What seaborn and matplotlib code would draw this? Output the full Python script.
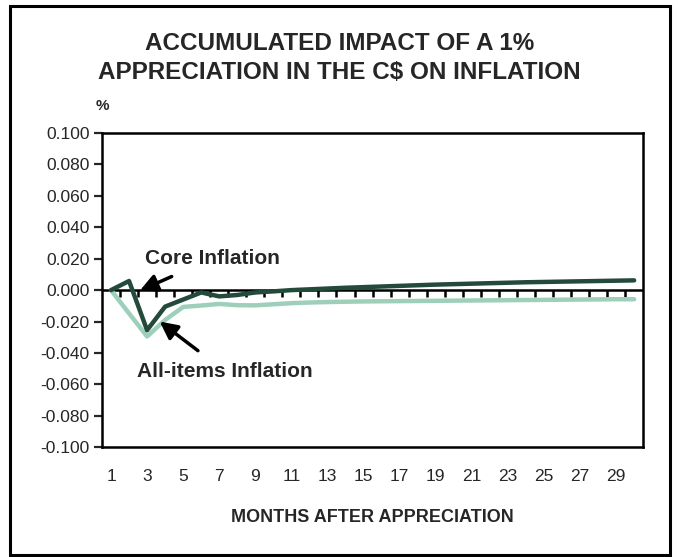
import numpy as np
import pandas as pd
import matplotlib
matplotlib.use("Agg")
import matplotlib.pyplot as plt
import seaborn as sns
from matplotlib.markers import TICKDOWN
from matplotlib.patches import Rectangle

months = list(range(1, 31))
core_inflation = [0.000, 0.0058, -0.0255, -0.0105, -0.006, -0.0015, -0.004, -0.0031, -0.0015, -0.0008,
                  0.0000, 0.0005, 0.0010, 0.0015, 0.0019, 0.0023, 0.0027, 0.0031, 0.0035, 0.0038,
                  0.0041, 0.0044, 0.0047, 0.0050, 0.0052, 0.0054, 0.0056, 0.0058, 0.0060, 0.0062]
all_items_inflation = [0.000, -0.0148, -0.0295, -0.019, -0.0107, -0.0098, -0.0088, -0.0096, -0.0097, -0.0090,
                       -0.0083, -0.0079, -0.0076, -0.0074, -0.0072, -0.0071, -0.0070, -0.0069, -0.0068, -0.0067,
                       -0.0066, -0.0065, -0.0064, -0.0063, -0.0062, -0.0061, -0.0060, -0.0059, -0.0058, -0.0058]
tick_months = list(range(1, 30, 2))
y_ticks = [-0.1, -0.08, -0.06, -0.04, -0.02, 0.0, 0.02, 0.04, 0.06, 0.08, 0.1]

df = pd.DataFrame({
    "month": months * 2,
    "value": core_inflation + all_items_inflation,
    "series": ["Core Inflation"] * 30 + ["All-items Inflation"] * 30,
})

sns.set_style("white")
plt.rcParams["font.family"] = ["Liberation Sans", "DejaVu Sans"]

fig = plt.figure(figsize=(6.79, 5.57), dpi=100)
ax = fig.add_axes([0.1502, 0.197, 0.797, 0.5643])

# zero line with category tick marks, under the series
ax.axhline(0, color="black", linewidth=1.8, zorder=1)
boundaries = np.arange(1.5, 30.5, 1)
ax.plot(boundaries, np.zeros_like(boundaries), linestyle="none", marker=TICKDOWN,
        markersize=5, markeredgewidth=1.8, color="black", zorder=1)

palette = {"Core Inflation": "#244a3b", "All-items Inflation": "#9dcfbb"}
sns.lineplot(data=df, x="month", y="value", hue="series", palette=palette,
             hue_order=["All-items Inflation", "Core Inflation"],
             linewidth=3.2, legend=False, ax=ax, zorder=2)

ax.set_xlim(0.5, 30.5)
ax.set_ylim(-0.1, 0.1)
ax.set_yticks(y_ticks)
ax.set_yticklabels([f"{v:.3f}" for v in y_ticks], fontsize=12.5)
ax.set_xticks(tick_months)
ax.set_xticklabels([str(m) for m in tick_months], fontsize=12.5)
ax.tick_params(axis="x", length=0, pad=16)
ax.tick_params(axis="y", length=5.5, width=1.6, direction="out", left=True, pad=3.5)
for s in ax.spines.values():
    s.set_linewidth(1.8)
    s.set_color("black")

ax.set_xlabel("MONTHS AFTER APPRECIATION", fontsize=13, fontweight="bold", labelpad=18)
ax.set_ylabel("")
ax.text(0.0, 1.085, "%", transform=ax.transAxes, ha="center", va="center",
        fontsize=11, fontweight="bold")

fig.suptitle("ACCUMULATED IMPACT OF A 1%\nAPPRECIATION IN THE C$ ON INFLATION",
             x=0.5, y=0.943, fontsize=17.5, fontweight="bold", linespacing=1.32)

ax.annotate("Core Inflation", xy=(2.6, -0.0003), xytext=(6.6, 0.020),
            ha="center", va="center", fontsize=15, fontweight="bold",
            arrowprops=dict(arrowstyle="-|>,head_width=0.35,head_length=0.7", color="black", lw=2.5,
                            shrinkA=9, shrinkB=0))
ax.annotate("All-items Inflation", xy=(3.7, -0.020), xytext=(7.3, -0.0515),
            ha="center", va="center", fontsize=15, fontweight="bold",
            arrowprops=dict(arrowstyle="-|>,head_width=0.35,head_length=0.7", color="black", lw=2.5,
                            shrinkA=9, shrinkB=0))

fig.patches.append(Rectangle((0.015, 0.004), 0.972, 0.985, transform=fig.transFigure,
                             fill=False, edgecolor="black", linewidth=2.2))

fig.savefig("out.png", dpi=100)
